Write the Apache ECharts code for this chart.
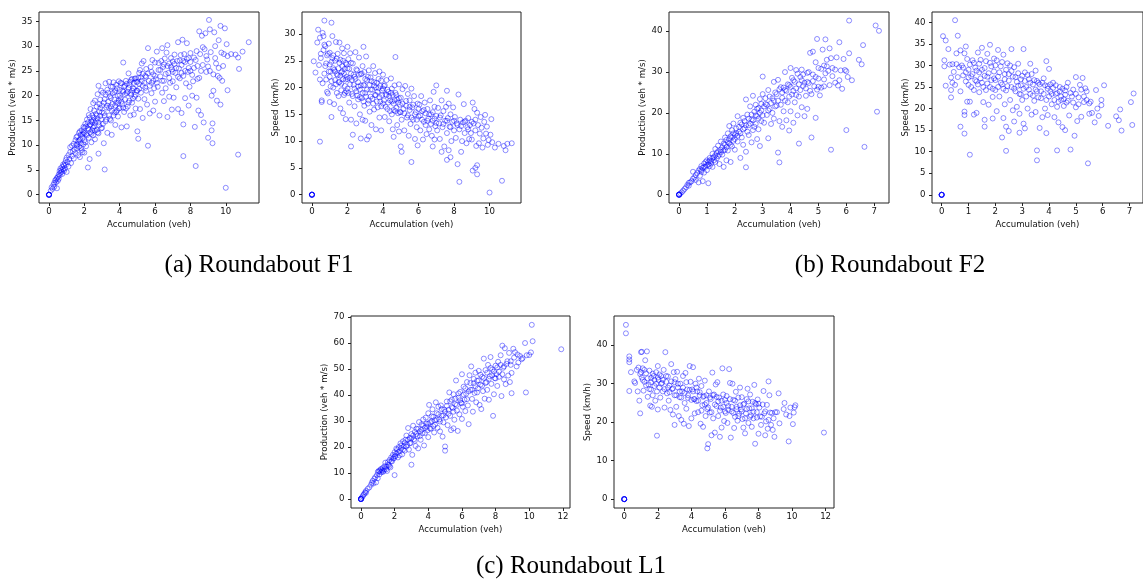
<!DOCTYPE html>
<html>
<head>
<meta charset="utf-8">
<script src="https://cdn.jsdelivr.net/npm/echarts@6/dist/echarts.min.js"></script>
<style>
  html, body { margin: 0; padding: 0; background: #fff; }
  #chart { width: 1143px; height: 581px; }
</style>
</head>
<body>
<div id="chart"></div>
<script>
// Roundabout F1: [accumulation (veh), production (veh * m/s)]
const f1Production = [
  [0,0],[0,0],[0,0],[0,0],[0,0],[0,0],
  [0.1,0.8],[0.15,1.5],[0.2,1.2],[0.25,2.0],[0.3,2.4],[0.3,1.6],[0.35,2.9],[0.4,3.1],[0.4,2.5],[0.45,1.3],[0.45,3.4],[0.5,3.6],[0.5,2.8],[0.55,4.1],[0.55,3.2],[0.6,4.8],[0.6,3.9],[0.65,4.4],[0.65,5.3],[0.7,4.6],[0.7,5.0],[0.75,4.2],[0.75,5.6],[0.8,5.1],[0.8,6.1],[0.85,4.8],[0.85,5.9],[0.9,6.4],[0.9,5.3],[0.95,7.0],[0.95,6.0],
  [1.0,4.6],[1.0,7.5],[1.05,6.6],[1.1,8.0],[1.1,5.7],[1.15,7.2],[1.2,9.6],[1.2,8.6],[1.25,6.4],[1.3,9.9],[1.3,7.8],[1.35,8.8],[1.4,10.3],[1.4,7.3],[1.45,9.1],[1.5,11.0],[1.5,8.4],[1.55,10.0],[1.6,9.4],[1.6,11.8],[1.65,8.0],[1.65,10.7],[1.7,12.5],[1.7,9.7],[1.75,11.2],[1.75,7.6],[1.8,10.4],[1.8,12.1],[1.85,9.0],[1.85,13.0],[1.9,11.5],[1.9,8.6],[1.95,12.6],[1.95,10.2],
  [2.0,13.5],[2.0,11.0],[2.0,8.5],[2.05,14.3],[2.1,12.2],[2.1,9.8],[2.15,15.2],[2.2,13.4],[2.2,5.5],[2.25,11.5],[2.25,16.1],[2.3,14.0],[2.3,7.2],[2.35,12.6],[2.35,17.3],[2.4,14.8],[2.4,10.6],[2.45,16.0],[2.45,13.0],[2.5,18.5],[2.5,15.0],[2.5,12.0],[2.55,17.0],[2.55,13.8],[2.6,14.5],[2.6,19.0],[2.6,11.2],[2.65,16.3],[2.7,13.1],[2.7,17.8],[2.75,15.4],[2.75,20.3],[2.8,12.4],[2.8,22.0],[2.8,8.3],[2.85,16.8],[2.85,14.0],[2.9,19.2],[2.9,17.5],[2.95,15.2],[2.95,21.0],
  [3.0,18.0],[3.0,13.5],[3.05,20.6],[3.1,16.5],[3.1,10.4],[3.15,5.1],[3.15,19.3],[3.2,22.5],[3.2,14.8],[3.25,17.6],[3.3,21.2],[3.3,12.5],[3.35,18.8],[3.4,16.0],[3.4,22.8],[3.45,19.9],[3.5,15.0],[3.5,21.8],[3.5,17.8],[3.55,12.1],[3.6,20.5],[3.6,18.3],[3.65,22.7],[3.7,16.6],[3.7,19.2],[3.75,14.1],[3.75,21.0],[3.8,18.6],[3.8,22.2],[3.85,17.0],[3.9,20.0],[3.9,15.8],[3.95,19.0],[3.95,22.9],
  [4.0,21.2],[4.0,17.5],[4.05,19.5],[4.1,13.6],[4.1,22.5],[4.15,18.3],[4.2,26.7],[4.2,20.8],[4.25,16.7],[4.3,22.0],[4.3,19.2],[4.35,23.0],[4.4,13.8],[4.4,20.5],[4.45,17.8],[4.5,24.5],[4.5,21.6],[4.55,19.0],[4.6,22.8],[4.6,16.0],[4.65,20.2],[4.7,23.4],[4.7,18.6],[4.75,21.5],[4.8,16.2],[4.8,22.6],[4.85,19.8],[4.9,23.5],[4.9,17.4],[4.95,21.0],
  [5.0,12.8],[5.0,22.8],[5.05,11.3],[5.05,19.4],[5.1,24.6],[5.1,21.4],[5.15,17.3],[5.2,23.7],[5.25,26.5],[5.3,15.5],[5.3,22.0],[5.35,27.0],[5.4,19.3],[5.45,24.0],[5.5,21.0],[5.5,25.4],[5.55,18.2],[5.6,9.9],[5.6,29.6],[5.65,23.0],[5.7,16.4],[5.75,25.8],[5.8,20.5],[5.8,22.6],[5.85,27.2],[5.9,17.0],[5.9,24.3],[5.95,21.5],
  [6.0,26.7],[6.0,18.8],[6.05,23.3],[6.1,28.9],[6.15,21.8],[6.2,25.2],[6.25,16.0],[6.3,23.9],[6.35,27.0],[6.4,29.6],[6.4,20.6],[6.45,25.8],[6.5,18.9],[6.5,23.0],[6.55,27.5],[6.6,21.5],[6.65,28.7],[6.7,30.2],[6.7,15.7],[6.75,24.6],[6.8,26.5],[6.8,19.8],[6.85,22.6],[6.9,27.6],[6.95,17.2],[6.95,25.3],
  [7.0,22.9],[7.0,26.9],[7.05,19.6],[7.1,28.3],[7.15,24.6],[7.2,21.7],[7.25,27.0],[7.3,30.8],[7.3,17.3],[7.35,25.5],[7.4,23.5],[7.45,28.2],[7.5,16.5],[7.5,26.2],[7.55,31.3],[7.6,7.8],[7.6,14.2],[7.6,24.0],[7.65,28.4],[7.7,19.5],[7.7,26.8],[7.75,22.5],[7.8,30.6],[7.85,24.8],[7.9,18.0],[7.9,27.6],[7.95,21.8],
  [8.0,28.6],[8.0,25.0],[8.1,20.0],[8.15,22.9],[8.2,27.7],[8.25,13.7],[8.3,5.8],[8.35,19.6],[8.35,29.0],[8.4,26.0],[8.45,17.0],[8.5,33.0],[8.5,23.6],[8.55,28.4],[8.6,16.1],[8.65,32.1],[8.7,26.2],[8.75,14.6],[8.8,29.4],[8.85,32.6],[8.9,24.8],[8.95,27.3],
  [9.0,11.5],[9.0,25.9],[9.05,35.3],[9.1,33.4],[9.15,28.8],[9.2,13.0],[9.2,20.0],[9.25,10.4],[9.25,14.4],[9.3,21.0],[9.3,24.3],[9.35,32.8],[9.4,30.0],[9.45,26.5],[9.5,19.0],[9.55,24.0],[9.6,31.2],[9.65,23.6],[9.7,18.2],[9.7,34.1],[9.75,28.7],[9.8,23.0],[9.85,26.0],[9.95,33.6],
  [10.0,1.4],[10.05,30.4],[10.1,21.1],[10.1,28.0],[10.3,28.4],[10.55,28.3],[10.7,27.7],[10.7,8.1],[10.75,25.4],[10.95,28.9],[11.3,30.8],
  [1.55,11.6],[1.6,10.2],[1.7,11.0],[1.75,12.8],[1.8,9.4],[1.9,12.2],[1.95,13.7],[2.0,12.4],[2.05,10.6],[2.1,13.8],[2.15,12.0],[2.2,14.6],[2.25,13.2],[2.3,15.6],[2.35,14.2],[2.4,12.3],[2.45,14.6],[2.5,13.5],[2.55,15.6],[2.6,13.0],[2.65,14.9],[2.7,16.0],[2.75,12.6],[2.8,14.6],[2.85,18.3],[2.9,15.9],[2.95,13.4],[3.0,16.6],[3.05,14.3],[3.1,18.6],[3.15,16.0],[3.2,20.2],[3.25,15.2],[3.3,18.0],[3.35,20.6],[3.4,17.5],[3.45,15.3],[3.5,19.5],[3.55,17.0],[3.6,21.8],[3.65,16.0],[3.7,20.7],[3.75,18.0],[3.8,16.7],[3.85,21.5],[3.9,18.5],[3.95,17.4],
  [4.0,20.0],[4.05,22.6],[4.1,18.8],[4.15,21.0],[4.2,17.6],[4.25,21.8],[4.3,20.3],[4.35,17.4],[4.4,22.4],[4.45,20.8],[4.5,18.6],[4.55,22.2],[4.6,20.5],[4.65,23.2],[4.7,21.0],[4.75,19.4],[4.8,21.4],[4.85,23.4],[4.9,20.2],[4.95,22.8],[5.0,21.0],[5.05,23.6],[5.1,22.4],[5.15,25.2],[5.2,20.6],[5.25,23.0],[5.3,24.4],[5.4,22.6],[5.45,21.6],[5.5,23.8],[5.6,24.5],[5.7,22.0],[5.8,24.8],[5.9,23.0],
  [6.0,24.0],[6.1,22.6],[6.2,26.6],[6.3,25.2],[6.4,23.0],[6.5,26.3],[6.6,24.4],[6.7,26.0],[6.8,23.6],[6.9,25.8],[7.0,24.8],[7.1,26.4],[7.2,25.6],[7.3,23.8],[7.4,27.1],[7.5,24.6],[7.6,27.0],[7.7,25.0],[7.8,27.4],[7.9,25.6],[8.0,26.8],[8.1,24.2],[8.2,25.6],[8.3,27.2],[8.4,23.4],[8.6,25.0],[8.7,29.8],[8.9,28.0],[9.1,25.0],[9.4,27.6],[9.6,25.6],[9.9,28.4]
];

// Roundabout F1: [accumulation (veh), speed (km/h)]
const f1Speed = [
  [0,0],[0,0],[0,0],[0,0],[0,0],[0,0],
  [0.1,24.9],[0.2,22.8],[0.3,28.4],[0.35,30.8],[0.4,24.2],[0.45,29.3],[0.45,21.5],[0.45,9.9],[0.5,26.3],[0.5,25.5],[0.55,17.6],[0.55,17.3],[0.6,30.2],[0.6,20.8],[0.65,29.6],[0.65,27.0],[0.7,32.5],[0.7,28.0],[0.7,22.6],[0.75,27.7],[0.75,24.0],[0.8,24.5],[0.8,21.5],[0.85,19.2],[0.85,26.0],[0.9,18.9],[0.9,26.3],[0.95,23.0],[0.95,28.2],
  [1.0,26.5],[1.0,17.3],[1.0,22.0],[1.05,20.2],[1.1,14.5],[1.1,32.1],[1.1,24.8],[1.15,29.6],[1.2,20.0],[1.2,26.0],[1.25,16.9],[1.25,23.3],[1.3,21.4],[1.3,25.0],[1.35,28.5],[1.4,22.5],[1.4,19.0],[1.45,26.3],[1.5,23.6],[1.5,18.4],[1.55,28.4],[1.55,21.0],[1.6,25.2],[1.6,16.1],[1.65,22.8],[1.65,19.5],[1.7,27.3],[1.7,24.0],[1.75,15.2],[1.75,21.6],[1.8,26.4],[1.8,18.6],[1.85,23.5],[1.85,20.3],[1.9,24.6],[1.9,14.1],[1.95,22.0],[1.95,19.3],
  [2.0,27.6],[2.0,23.6],[2.0,19.8],[2.05,25.3],[2.1,21.8],[2.1,17.2],[2.15,26.4],[2.2,9.0],[2.2,14.0],[2.2,22.6],[2.25,18.8],[2.3,11.2],[2.3,24.5],[2.35,20.5],[2.4,16.5],[2.4,22.0],[2.45,26.6],[2.5,19.3],[2.5,13.3],[2.55,23.2],[2.6,17.8],[2.6,21.0],[2.65,25.6],[2.7,15.0],[2.7,19.6],[2.75,10.5],[2.75,22.5],[2.8,18.0],[2.85,14.0],[2.85,24.0],[2.9,27.6],[2.9,20.5],[2.95,16.6],[2.95,22.9],
  [3.0,19.0],[3.0,13.8],[3.05,25.8],[3.1,10.3],[3.1,21.4],[3.15,17.0],[3.2,10.9],[3.2,23.2],[3.25,15.5],[3.3,19.6],[3.3,21.9],[3.35,13.0],[3.4,17.9],[3.45,24.0],[3.5,20.4],[3.5,15.9],[3.55,22.7],[3.6,18.6],[3.6,12.2],[3.65,20.9],[3.7,16.3],[3.75,19.9],[3.8,23.0],[3.8,14.4],[3.85,17.4],[3.9,21.3],[3.9,12.0],[3.95,19.4],
  [4.0,22.4],[4.0,17.0],[4.05,20.3],[4.1,14.5],[4.15,18.7],[4.2,21.4],[4.25,16.0],[4.3,19.2],[4.35,13.7],[4.4,17.6],[4.45,21.7],[4.5,15.0],[4.5,19.8],[4.55,12.2],[4.6,17.0],[4.6,10.8],[4.65,20.4],[4.7,25.7],[4.7,15.6],[4.75,18.6],[4.8,13.0],[4.85,17.2],[4.9,20.6],[4.9,11.8],[4.95,15.4],
  [5.0,9.0],[5.0,18.1],[5.05,8.0],[5.05,14.0],[5.1,19.7],[5.15,16.0],[5.2,12.0],[5.25,20.3],[5.3,17.5],[5.35,14.4],[5.4,18.8],[5.45,11.0],[5.5,15.8],[5.5,17.6],[5.55,13.2],[5.6,6.1],[5.6,19.8],[5.65,16.3],[5.7,14.0],[5.75,18.4],[5.8,10.4],[5.85,15.4],[5.9,12.6],[5.95,9.2],[5.95,17.0],
  [6.0,14.6],[6.05,16.8],[6.1,12.0],[6.15,18.4],[6.2,14.0],[6.25,10.3],[6.3,15.8],[6.35,17.2],[6.4,13.0],[6.45,11.3],[6.5,16.0],[6.55,14.2],[6.6,12.2],[6.65,17.6],[6.7,15.0],[6.75,11.0],[6.8,9.0],[6.8,13.8],[6.85,19.2],[6.9,10.3],[6.9,16.4],[6.95,12.8],
  [7.0,14.7],[7.0,20.4],[7.05,12.0],[7.1,16.2],[7.15,13.3],[7.2,10.4],[7.25,14.8],[7.3,8.0],[7.3,17.6],[7.35,12.6],[7.4,15.6],[7.45,9.0],[7.5,13.8],[7.55,16.4],[7.6,6.5],[7.6,19.4],[7.6,11.5],[7.65,14.3],[7.7,8.3],[7.7,17.0],[7.75,12.7],[7.8,7.0],[7.8,15.0],[7.85,10.0],[7.9,13.6],[7.95,16.3],
  [8.0,12.0],[8.05,14.5],[8.1,10.6],[8.15,13.3],[8.2,5.7],[8.25,18.7],[8.3,2.4],[8.3,12.2],[8.35,14.0],[8.4,8.0],[8.45,10.0],[8.5,13.5],[8.55,16.9],[8.6,11.5],[8.65,13.8],[8.7,9.6],[8.75,12.6],[8.8,14.3],[8.85,10.4],[8.9,13.0],[8.95,11.5],
  [9.0,10.3],[9.05,4.5],[9.05,17.2],[9.1,13.3],[9.15,16.0],[9.2,5.0],[9.2,12.0],[9.25,9.1],[9.3,3.8],[9.3,5.5],[9.3,15.3],[9.35,13.0],[9.4,9.6],[9.45,11.4],[9.5,14.5],[9.55,12.5],[9.6,8.8],[9.65,10.5],[9.7,13.6],[9.75,14.9],[9.8,11.4],[9.85,12.7],[9.9,9.3],[9.95,10.2],
  [10.0,0.4],[10.05,11.2],[10.1,14.1],[10.15,9.8],[10.3,8.8],[10.5,9.5],[10.7,2.6],[10.8,9.1],[10.9,8.3],[11.0,9.5],[11.25,9.6],
  [1.0,24.3],[1.05,23.0],[1.1,21.2],[1.15,25.5],[1.2,23.6],[1.3,23.0],[1.35,20.6],[1.4,25.4],[1.45,22.3],[1.5,21.0],[1.55,24.6],[1.6,22.2],[1.65,20.7],[1.7,23.0],[1.75,25.0],[1.8,22.6],[1.85,19.0],[1.9,21.5],[1.95,24.3],
  [2.0,21.6],[2.05,19.0],[2.1,23.5],[2.15,20.6],[2.2,24.6],[2.25,21.4],[2.3,18.4],[2.35,22.4],[2.4,19.8],[2.45,21.6],[2.5,23.4],[2.55,18.5],[2.6,20.2],[2.65,22.4],[2.7,18.2],[2.75,20.4],[2.8,22.6],[2.85,19.0],[2.9,17.4],[2.95,20.4],
  [3.0,21.6],[3.05,18.3],[3.1,19.6],[3.15,22.0],[3.2,17.6],[3.25,20.5],[3.3,18.3],[3.35,21.2],[3.4,19.6],[3.45,17.0],[3.5,21.0],[3.55,18.6],[3.6,20.0],[3.65,17.4],[3.7,19.2],[3.75,21.6],[3.8,18.2],[3.85,20.3],[3.9,16.5],[3.95,18.6],
  [4.0,19.8],[4.05,17.6],[4.1,20.4],[4.15,16.4],[4.2,18.6],[4.25,19.6],[4.3,17.2],[4.35,18.4],[4.4,15.6],[4.45,19.0],[4.5,17.4],[4.55,18.6],[4.6,15.8],[4.65,17.6],[4.7,19.0],[4.75,16.2],[4.8,17.8],[4.85,15.2],[4.9,18.0],[4.95,16.8],
  [5.0,15.4],[5.1,17.0],[5.2,15.2],[5.3,16.6],[5.4,14.8],[5.5,16.4],[5.6,14.4],[5.7,16.8],[5.8,15.0],[5.9,14.0],[6.0,16.0],[6.1,14.8],[6.2,15.6],[6.3,13.6],[6.4,15.2],[6.5,13.8],[6.6,15.0],[6.7,13.2],[6.8,15.4],[6.9,14.2],
  [7.0,13.4],[7.2,14.4],[7.4,13.2],[7.6,13.8],[7.8,12.6],[8.0,13.8],[8.2,13.0],[8.4,12.8],[8.6,13.6],[8.8,12.2],[9.0,13.6],[9.2,14.0]
];

// Roundabout F2: [accumulation (veh), production (veh * m/s)]
const f2Production = [
  [0,0],[0,0],[0,0],[0,0],[0,0],[0,0],
  [0.05,0.3],[0.1,0.6],[0.15,1.0],[0.2,1.4],[0.25,1.8],[0.3,2.4],[0.35,2.2],[0.35,2.9],[0.4,3.0],[0.45,3.3],[0.5,3.9],[0.5,5.6],[0.55,4.2],[0.6,4.8],[0.6,3.6],[0.65,5.3],[0.7,3.0],[0.7,5.9],[0.75,4.6],[0.75,6.3],[0.8,5.6],[0.8,7.0],[0.85,3.3],[0.85,6.6],[0.9,7.6],[0.9,5.4],[0.95,8.0],[0.95,6.8],
  [1.0,8.4],[1.0,6.0],[1.05,2.8],[1.05,7.4],[1.1,9.0],[1.1,7.0],[1.15,8.2],[1.2,10.0],[1.2,6.8],[1.25,9.2],[1.3,11.2],[1.3,8.0],[1.35,10.2],[1.4,12.0],[1.4,9.4],[1.45,7.5],[1.5,11.0],[1.5,13.0],[1.55,9.8],[1.6,12.5],[1.6,6.8],[1.65,14.0],[1.65,11.0],[1.7,8.4],[1.7,13.4],[1.75,15.0],[1.75,10.8],[1.8,12.6],[1.8,16.8],[1.85,8.0],[1.85,14.3],[1.9,11.8],[1.9,15.8],[1.95,13.2],[1.95,17.4],
  [2.0,14.6],[2.0,11.0],[2.05,16.2],[2.1,19.2],[2.1,13.0],[2.15,15.4],[2.2,17.6],[2.2,9.0],[2.25,14.0],[2.3,18.8],[2.3,12.2],[2.35,16.3],[2.4,23.3],[2.4,6.7],[2.4,10.5],[2.45,19.6],[2.5,14.6],[2.5,17.0],[2.55,21.6],[2.6,18.4],[2.6,12.8],[2.65,24.2],[2.65,15.8],[2.7,20.3],[2.75,17.3],[2.75,22.0],[2.8,13.6],[2.8,19.2],[2.85,21.2],[2.85,16.0],[2.9,11.9],[2.9,23.4],[2.95,18.0],[2.95,20.6],
  [3.0,28.9],[3.0,24.6],[3.05,17.6],[3.1,22.2],[3.15,19.5],[3.2,25.6],[3.2,13.8],[3.25,21.0],[3.3,17.3],[3.35,23.6],[3.4,27.6],[3.4,18.6],[3.45,25.0],[3.5,21.8],[3.55,10.3],[3.55,28.1],[3.6,7.9],[3.6,18.0],[3.65,26.3],[3.7,16.6],[3.7,23.7],[3.75,20.4],[3.8,30.0],[3.8,25.6],[3.85,18.2],[3.9,22.6],[3.95,15.7],[3.95,26.8],
  [4.0,31.0],[4.0,20.4],[4.05,24.5],[4.1,28.0],[4.1,17.6],[4.15,22.6],[4.2,30.5],[4.2,26.0],[4.25,19.4],[4.3,12.5],[4.3,24.0],[4.35,28.8],[4.4,30.6],[4.4,21.4],[4.45,26.6],[4.5,19.2],[4.55,24.2],[4.6,29.8],[4.6,21.0],[4.65,27.3],[4.7,34.7],[4.75,14.0],[4.75,24.6],[4.8,35.0],[4.8,29.4],[4.85,26.5],[4.9,32.4],[4.9,18.8],[4.95,38.1],[4.95,25.7],
  [5.0,31.0],[5.0,28.4],[5.05,24.3],[5.1,26.2],[5.15,35.5],[5.2,31.6],[5.2,26.5],[5.25,38.0],[5.25,29.7],[5.3,33.0],[5.35,30.3],[5.4,35.8],[5.45,11.0],[5.45,33.4],[5.5,29.0],[5.6,30.6],[5.65,33.6],[5.7,26.7],[5.75,37.3],[5.75,28.0],[5.85,25.9],[5.9,33.2],[5.95,30.5],
  [6.0,15.8],[6.0,30.2],[6.05,28.8],[6.1,42.6],[6.1,34.6],[6.2,28.0],[6.45,33.0],[6.55,31.9],[6.6,36.6],[6.65,11.7],[7.05,41.4],[7.1,20.3],[7.17,40.1],
  [0.8,6.0],[0.9,6.8],[1.0,7.2],[1.05,8.0],[1.1,8.4],[1.15,7.6],[1.2,9.0],[1.25,8.4],[1.3,9.6],[1.35,8.8],[1.4,10.6],[1.45,9.8],[1.5,10.4],[1.55,11.6],[1.6,10.8],[1.65,12.2],[1.7,11.6],[1.75,12.8],[1.8,13.6],[1.85,12.2],[1.9,14.0],[1.95,15.0],
  [2.0,13.6],[2.05,15.0],[2.1,14.4],[2.15,16.6],[2.2,15.0],[2.25,17.2],[2.3,16.0],[2.35,18.0],[2.4,17.0],[2.45,15.4],[2.5,18.6],[2.55,17.4],[2.6,19.6],[2.65,18.2],[2.7,16.6],[2.75,19.4],[2.8,21.0],[2.85,18.6],[2.9,20.0],[2.95,22.2],
  [3.0,19.4],[3.05,21.6],[3.1,23.6],[3.15,22.0],[3.2,20.6],[3.25,24.0],[3.3,22.4],[3.35,20.0],[3.4,23.0],[3.45,21.6],[3.5,24.6],[3.55,23.0],[3.6,25.8],[3.65,22.0],[3.7,25.0],[3.75,26.2],[3.8,23.0],[3.85,25.4],[3.9,27.0],[3.95,24.0],
  [4.0,26.4],[4.05,28.6],[4.1,25.4],[4.15,27.6],[4.2,24.4],[4.25,29.6],[4.3,27.0],[4.35,25.6],[4.4,28.0],[4.45,29.4],[4.5,27.4],[4.55,26.0],[4.6,27.6],[4.65,30.0],[4.7,25.4],[4.8,27.8],[4.9,28.8],
  [5.0,26.4],[5.1,30.8],[5.2,28.2],[5.3,31.4],[5.4,26.8],[5.5,31.0],[5.6,27.4],[5.8,30.4]
];

// Roundabout F2: [accumulation (veh), speed (km/h)]
const f2Speed = [
  [0,0],[0,0],[0,0],[0,0],[0,0],[0,0],
  [0.05,36.8],[0.1,31.2],[0.1,29.8],[0.15,25.3],[0.15,35.8],[0.25,33.8],[0.3,30.2],[0.35,27.2],[0.35,24.3],[0.35,22.6],[0.4,26.0],[0.4,30.3],[0.45,28.5],[0.5,40.5],[0.5,25.5],[0.55,32.8],[0.55,30.3],[0.6,36.9],[0.6,27.3],[0.65,29.6],[0.7,33.5],[0.7,24.0],[0.7,15.8],[0.75,30.0],[0.8,27.7],[0.85,32.8],[0.85,19.3],[0.85,18.5],[0.85,14.2],[0.9,34.4],[0.9,26.3],[0.95,21.6],[0.95,31.5],
  [1.0,29.0],[1.0,25.5],[1.05,9.3],[1.05,21.6],[1.1,27.5],[1.15,31.2],[1.2,24.3],[1.2,18.6],[1.25,29.5],[1.3,26.3],[1.3,19.0],[1.35,33.0],[1.4,23.8],[1.4,28.4],[1.45,31.3],[1.5,34.1],[1.5,26.0],[1.55,21.5],[1.6,29.4],[1.6,17.4],[1.6,15.8],[1.65,24.3],[1.7,32.7],[1.7,27.4],[1.75,20.9],[1.8,34.8],[1.8,25.0],[1.85,29.8],[1.9,22.7],[1.9,17.7],[1.95,31.6],[1.95,27.0],
  [2.0,24.3],[2.0,30.0],[2.05,19.4],[2.1,33.6],[2.1,27.4],[2.15,22.8],[2.2,29.8],[2.25,25.6],[2.25,13.3],[2.3,17.8],[2.3,32.5],[2.35,21.0],[2.35,28.0],[2.4,10.2],[2.4,15.8],[2.4,24.2],[2.45,30.5],[2.5,14.8],[2.5,26.5],[2.55,22.0],[2.6,33.8],[2.6,28.7],[2.65,19.6],[2.7,24.6],[2.7,17.0],[2.75,27.3],[2.8,20.4],[2.85,25.3],[2.85,30.4],[2.9,18.8],[2.9,14.4],[2.95,23.3],[2.95,26.8],
  [3.0,22.0],[3.05,33.8],[3.05,16.5],[3.1,28.4],[3.1,15.4],[3.15,25.0],[3.2,20.0],[3.25,26.8],[3.3,30.4],[3.3,23.4],[3.35,18.6],[3.4,25.6],[3.45,21.8],[3.5,28.8],[3.5,19.2],[3.55,10.3],[3.55,8.0],[3.55,24.0],[3.6,26.0],[3.65,15.5],[3.7,22.4],[3.75,18.0],[3.8,27.0],[3.85,20.0],[3.9,31.0],[3.9,14.3],[3.95,25.2],[3.95,18.5],
  [4.0,29.2],[4.05,24.0],[4.1,21.0],[4.15,26.0],[4.2,18.0],[4.25,23.4],[4.3,10.3],[4.3,20.4],[4.35,16.8],[4.4,25.0],[4.45,22.0],[4.5,15.7],[4.55,20.6],[4.6,24.2],[4.6,15.0],[4.65,21.4],[4.7,26.0],[4.75,18.4],[4.8,10.5],[4.85,22.8],[4.9,24.4],[4.95,13.7],
  [5.0,27.3],[5.0,20.3],[5.05,17.1],[5.1,22.6],[5.15,25.5],[5.2,18.1],[5.25,27.1],[5.3,21.5],[5.35,24.7],[5.4,22.0],[5.45,7.3],[5.5,18.8],[5.55,21.6],[5.6,19.0],[5.7,16.8],[5.75,24.3],[5.8,20.0],[5.85,18.3],[5.95,20.8],[5.95,22.0],
  [6.05,25.4],[6.2,16.0],[6.5,18.2],[6.6,17.3],[6.65,19.8],[6.7,14.9],[7.05,21.5],[7.1,16.2],[7.15,23.5],
  [0.8,29.5],[0.9,28.4],[1.0,27.2],[1.05,30.2],[1.1,25.0],[1.15,28.0],[1.2,30.6],[1.25,26.6],[1.3,28.8],[1.35,25.6],[1.4,30.4],[1.45,27.0],[1.5,29.0],[1.55,25.0],[1.6,27.6],[1.65,31.0],[1.7,25.8],[1.75,28.2],[1.8,30.6],[1.85,26.6],[1.9,24.6],[1.95,28.6],
  [2.0,26.6],[2.05,31.2],[2.1,25.0],[2.15,28.4],[2.2,26.0],[2.25,30.8],[2.3,24.6],[2.35,26.8],[2.4,29.0],[2.45,25.2],[2.5,28.0],[2.55,30.0],[2.6,25.0],[2.65,27.4],[2.7,29.6],[2.75,24.0],[2.8,26.2],[2.85,28.2],[2.9,23.4],[2.95,25.4],
  [3.0,27.6],[3.05,24.6],[3.1,26.4],[3.15,22.8],[3.2,27.8],[3.25,24.4],[3.3,26.0],[3.35,28.0],[3.4,23.0],[3.45,26.6],[3.5,24.4],[3.55,26.4],[3.6,22.6],[3.65,25.6],[3.7,24.0],[3.75,26.0],[3.8,23.4],[3.85,25.4],[3.9,22.0],[3.95,24.6],
  [4.0,22.8],[4.05,25.6],[4.1,23.4],[4.15,24.8],[4.2,22.0],[4.25,25.4],[4.3,23.6],[4.35,21.6],[4.4,24.0],[4.45,22.8],[4.5,24.6],[4.55,22.2],[4.6,23.2],[4.65,25.0],[4.7,21.8],[4.8,23.6],[4.9,21.4],
  [5.0,23.4],[5.1,21.0],[5.2,24.4],[5.3,22.8],[5.4,24.0],[5.5,21.2]
];

// Roundabout L1: [accumulation (veh), production (veh * m/s)]
const l1Production = [
  [0,0],[0,0],[0,0],[0,0],[0,0],[0,0],
  [0.05,0.5],[0.1,1.0],[0.15,1.6],[0.2,2.0],[0.25,2.6],[0.3,3.1],[0.3,2.4],[0.4,3.9],[0.5,4.5],[0.6,5.5],[0.65,6.3],[0.7,7.0],[0.75,6.0],[0.8,7.8],[0.85,8.4],[0.9,6.4],[0.95,9.2],
  [1.0,10.4],[1.0,8.0],[1.05,10.8],[1.1,9.5],[1.15,11.2],[1.2,10.3],[1.25,11.0],[1.3,12.0],[1.35,10.8],[1.4,11.5],[1.45,14.0],[1.5,12.4],[1.55,10.8],[1.6,14.2],[1.65,13.0],[1.7,15.0],[1.75,12.2],[1.8,16.0],[1.85,14.5],[1.9,17.0],[1.95,15.6],
  [2.0,18.0],[2.0,9.2],[2.05,16.5],[2.1,17.5],[2.15,19.0],[2.2,16.0],[2.25,20.0],[2.3,18.4],[2.35,21.4],[2.4,19.5],[2.45,17.2],[2.5,22.2],[2.55,20.3],[2.6,18.6],[2.65,22.8],[2.7,24.4],[2.75,20.8],[2.8,27.3],[2.85,19.0],[2.9,23.5],[2.95,21.6],
  [3.0,13.2],[3.0,25.0],[3.05,17.0],[3.1,28.2],[3.15,23.0],[3.2,25.8],[3.25,20.4],[3.3,27.0],[3.35,24.2],[3.4,19.5],[3.45,29.6],[3.5,26.0],[3.55,22.8],[3.6,28.7],[3.65,25.3],[3.7,30.6],[3.75,20.6],[3.8,27.3],[3.85,31.3],[3.9,29.0],[3.95,26.4],
  [4.0,23.8],[4.0,33.0],[4.05,36.2],[4.1,29.5],[4.15,27.0],[4.2,31.8],[4.25,34.5],[4.3,28.0],[4.35,25.6],[4.4,30.3],[4.45,37.2],[4.5,33.0],[4.55,27.4],[4.6,35.5],[4.65,30.6],[4.7,26.0],[4.75,36.0],[4.8,32.0],[4.85,24.0],[4.9,29.5],[4.95,34.4],
  [5.0,18.6],[5.0,20.2],[5.05,31.4],[5.1,37.5],[5.15,28.4],[5.2,34.3],[5.25,41.0],[5.3,32.0],[5.35,26.5],[5.4,38.2],[5.45,35.0],[5.5,27.2],[5.5,40.3],[5.55,30.5],[5.6,36.5],[5.65,45.6],[5.7,34.0],[5.75,26.2],[5.8,39.0],[5.85,32.6],[5.9,41.2],[5.95,37.0],
  [6.0,48.0],[6.0,30.8],[6.05,35.5],[6.1,43.2],[6.15,38.2],[6.2,33.8],[6.25,40.5],[6.3,45.0],[6.35,36.0],[6.4,28.8],[6.45,47.6],[6.5,42.0],[6.55,51.0],[6.6,38.5],[6.65,33.6],[6.7,44.5],[6.75,40.8],[6.8,48.6],[6.85,37.2],[6.9,45.5],[6.95,42.6],
  [7.0,49.3],[7.05,36.2],[7.1,44.0],[7.15,34.6],[7.2,47.0],[7.25,41.5],[7.3,54.0],[7.35,38.6],[7.4,49.6],[7.45,45.0],[7.5,42.0],[7.55,51.6],[7.6,38.2],[7.65,47.2],[7.7,54.6],[7.75,44.3],[7.8,49.8],[7.85,32.0],[7.9,40.3],[7.95,46.5],
  [8.0,51.3],[8.05,48.0],[8.1,43.5],[8.15,52.8],[8.2,47.0],[8.3,55.3],[8.35,39.6],[8.4,59.0],[8.45,50.5],[8.5,46.0],[8.55,58.0],[8.6,44.2],[8.65,52.0],[8.75,47.5],[8.8,56.2],[8.85,45.0],[8.9,53.0],[8.95,48.5],
  [8.95,40.7],[9.05,57.8],[9.15,56.5],[9.25,51.0],[9.35,52.5],[9.45,55.0],[9.55,53.8],[9.6,54.2],[9.75,60.0],[9.8,41.0],[9.85,55.3],[10.0,55.4],[10.1,56.4],[10.15,67.0],[10.2,60.7],[11.9,57.6],
  [1.1,10.6],[1.2,11.6],[1.3,10.4],[1.4,12.6],[1.5,11.4],[1.6,13.2],[1.7,12.6],[1.8,14.6],[1.9,15.6],[2.0,16.4],[2.1,19.4],[2.2,18.0],[2.3,16.8],[2.4,20.6],[2.5,19.0],[2.6,21.6],[2.7,20.2],[2.8,22.8],[2.9,21.4],
  [3.0,23.4],[3.1,24.4],[3.2,22.4],[3.3,25.0],[3.4,27.0],[3.5,24.2],[3.6,26.6],[3.7,28.2],[3.8,25.4],[3.9,27.8],[4.0,29.0],[4.1,27.2],[4.2,29.8],[4.3,31.6],[4.4,28.6],[4.5,30.6],[4.6,32.6],[4.7,29.8],[4.8,34.6],[4.9,32.2],
  [5.0,33.6],[5.1,35.8],[5.2,32.8],[5.3,37.6],[5.4,35.4],[5.5,33.6],[5.6,38.6],[5.7,36.2],[5.8,40.6],[5.9,38.0],[6.0,36.8],[6.1,40.2],[6.2,42.6],[6.3,38.4],[6.4,41.4],[6.5,44.6],[6.6,42.0],[6.7,46.2],[6.8,43.4],[6.9,41.0],
  [7.0,45.6],[7.1,47.8],[7.2,43.6],[7.3,46.6],[7.4,44.6],[7.5,48.6],[7.6,46.2],[7.7,50.4],[7.8,47.6],[7.9,49.0],[8.0,46.4],[8.1,50.6],[8.2,49.0],[8.3,51.6],[8.4,48.0],[8.5,51.0],[8.7,53.0],[8.9,51.6],[9.1,54.4],[9.3,55.6]
];

// Roundabout L1: [accumulation (veh), speed (km/h)]
const l1Speed = [
  [0,0],[0,0],[0,0],[0,0],[0,0],[0,0],
  [0.1,45.3],[0.1,43.1],[0.3,37.1],[0.3,36.3],[0.3,35.6],[0.3,28.1],[0.4,33.0],[0.6,30.6],[0.65,30.2],[0.75,33.6],[0.8,28.0],[0.85,34.2],[0.9,25.6],[0.95,32.5],[0.95,22.3],
  [1.0,38.2],[1.05,38.3],[1.05,31.6],[1.1,34.0],[1.15,28.2],[1.2,30.5],[1.25,36.1],[1.3,32.7],[1.35,38.4],[1.4,26.6],[1.45,29.8],[1.5,33.4],[1.55,24.3],[1.6,28.5],[1.6,31.5],[1.65,24.0],[1.7,27.0],[1.75,32.0],[1.8,29.4],[1.85,25.6],[1.9,33.0],[1.95,16.5],[1.95,28.0],
  [2.0,34.6],[2.0,23.3],[2.05,31.0],[2.1,29.0],[2.15,26.4],[2.2,32.0],[2.25,30.2],[2.3,28.0],[2.35,33.6],[2.4,23.8],[2.45,38.2],[2.5,30.5],[2.55,27.5],[2.6,31.9],[2.65,25.6],[2.7,29.5],[2.75,23.2],[2.8,35.1],[2.85,28.6],[2.9,22.0],[2.95,33.0],
  [3.0,19.3],[3.0,27.0],[3.05,31.2],[3.1,24.0],[3.15,33.1],[3.2,29.0],[3.25,21.6],[3.3,26.5],[3.35,30.0],[3.4,20.6],[3.45,28.0],[3.5,32.0],[3.55,19.6],[3.6,25.0],[3.65,32.8],[3.7,23.5],[3.75,28.5],[3.8,26.3],[3.85,19.0],[3.9,34.6],[3.95,30.5],
  [4.0,21.0],[4.05,28.5],[4.1,34.3],[4.15,26.0],[4.2,22.3],[4.25,30.0],[4.3,25.5],[4.35,28.0],[4.4,22.6],[4.45,31.3],[4.5,27.0],[4.55,19.6],[4.6,29.4],[4.65,24.4],[4.7,18.8],[4.75,26.8],[4.8,30.8],[4.85,21.6],[4.9,25.0],[4.95,13.2],[4.95,23.4],
  [5.0,14.3],[5.05,28.0],[5.1,22.5],[5.15,26.0],[5.2,16.6],[5.25,32.9],[5.3,21.0],[5.35,27.2],[5.4,17.3],[5.45,29.8],[5.5,24.2],[5.55,30.4],[5.6,21.6],[5.65,26.4],[5.7,16.2],[5.75,23.8],[5.8,18.6],[5.85,34.0],[5.9,27.2],[5.95,20.3],
  [6.0,25.8],[6.05,22.4],[6.1,26.8],[6.15,19.8],[6.2,24.2],[6.25,33.8],[6.3,30.2],[6.35,16.0],[6.4,22.8],[6.45,30.0],[6.5,25.8],[6.55,18.5],[6.6,21.4],[6.65,27.9],[6.7,24.0],[6.75,20.4],[6.8,26.4],[6.85,22.2],[6.9,29.0],[6.95,23.3],
  [7.0,26.5],[7.05,20.8],[7.1,18.6],[7.15,24.8],[7.2,17.1],[7.25,22.3],[7.3,26.0],[7.35,28.7],[7.4,19.8],[7.45,23.6],[7.5,27.2],[7.55,21.8],[7.6,18.8],[7.65,25.3],[7.7,22.7],[7.75,29.7],[7.8,14.4],[7.85,24.7],[7.9,21.2],[7.95,25.9],
  [8.0,17.0],[8.05,23.8],[8.1,21.5],[8.15,19.3],[8.25,24.6],[8.3,28.1],[8.35,22.3],[8.4,16.6],[8.45,20.2],[8.5,24.5],[8.55,18.3],[8.6,30.6],[8.65,27.0],[8.7,22.5],[8.75,19.3],[8.85,18.0],[8.9,21.0],[8.95,16.2],
  [9.1,22.6],[9.2,27.5],[9.25,19.7],[9.5,23.4],[9.55,25.0],[9.65,22.0],[9.8,15.0],[9.85,21.6],[9.9,23.8],[10.05,19.5],[10.1,22.5],[10.15,23.9],[10.2,24.4],[11.9,17.3],
  [1.0,33.0],[1.1,31.0],[1.2,33.6],[1.3,29.6],[1.4,31.4],[1.5,28.6],[1.6,30.4],[1.7,32.6],[1.8,31.0],[1.9,30.0],[2.0,31.6],[2.1,32.4],[2.2,30.0],[2.3,31.0],[2.4,28.6],[2.5,32.0],[2.6,29.0],[2.7,27.8],[2.8,30.6],[2.9,28.8],
  [3.0,30.4],[3.1,27.0],[3.2,30.0],[3.3,28.0],[3.4,26.4],[3.5,29.0],[3.6,27.6],[3.7,30.4],[3.8,27.0],[3.9,28.4],[4.0,25.8],[4.1,28.0],[4.2,26.0],[4.3,29.0],[4.4,25.6],[4.5,27.8],[4.6,23.0],[4.7,26.6],[4.8,24.6],[4.9,27.0],
  [5.0,23.8],[5.1,26.4],[5.2,22.6],[5.3,27.0],[5.4,24.6],[5.5,26.6],[5.6,25.4],[5.7,23.0],[5.8,25.6],[5.9,24.0],[6.0,22.8],[6.1,25.0],[6.2,23.2],[6.3,26.0],[6.4,24.0],[6.5,22.4],[6.6,25.6],[6.7,23.4],[6.8,21.6],[6.9,24.4],
  [7.0,22.8],[7.1,24.6],[7.2,21.0],[7.3,23.4],[7.4,25.4],[7.5,21.4],[7.6,23.6],[7.7,21.0],[7.8,25.0],[7.9,22.6],[8.0,24.8],[8.2,21.4],[8.4,22.8],[8.6,20.6],[8.8,22.4],[9.0,22.6]
];

// Tick values
const f1AccTicks = [0, 2, 4, 6, 8, 10];
const f1ProdTicks = [0, 5, 10, 15, 20, 25, 30, 35];
const f1SpeedTicks = [0, 5, 10, 15, 20, 25, 30];
const f2AccTicks = [0, 1, 2, 3, 4, 5, 6, 7];
const f2ProdTicks = [0, 10, 20, 30, 40];
const f2SpeedTicks = [0, 5, 10, 15, 20, 25, 30, 35, 40];
const l1AccTicks = [0, 2, 4, 6, 8, 10, 12];
const l1ProdTicks = [0, 10, 20, 30, 40, 50, 60, 70];
const l1SpeedTicks = [0, 10, 20, 30, 40];

const captions = ['(a) Roundabout F1', '(b) Roundabout F2', '(c) Roundabout L1'];
const accName = 'Accumulation (veh)';
const prodName = 'Production (veh * m/s)';
const speedName = 'Speed (km/h)';

// Panel layout: plot box in pixels and axis extents
const panels = [
  { box: [39, 12, 220, 191],  x: [-0.565, 11.88], y: [-1.67, 36.9],  xt: f1AccTicks, yt: f1ProdTicks,  yName: prodName,  data: f1Production },
  { box: [302, 12, 219, 191], x: [-0.56, 11.77],  y: [-1.55, 34.1],  xt: f1AccTicks, yt: f1SpeedTicks, yName: speedName, data: f1Speed },
  { box: [669, 12, 220, 191], x: [-0.36, 7.53],   y: [-2.04, 44.7],  xt: f2AccTicks, yt: f2ProdTicks,  yName: prodName,  data: f2Production },
  { box: [932, 12, 220, 191], x: [-0.36, 7.5],    y: [-1.9, 42.4],   xt: f2AccTicks, yt: f2SpeedTicks, yName: speedName, data: f2Speed },
  { box: [351, 316, 219, 192], x: [-0.59, 12.42], y: [-3.45, 70.4],  xt: l1AccTicks, yt: l1ProdTicks,  yName: prodName,  data: l1Production },
  { box: [614, 316, 220, 192], x: [-0.61, 12.5],  y: [-2.3, 47.6],   xt: l1AccTicks, yt: l1SpeedTicks, yName: speedName, data: l1Speed }
];

const FONT = 'DejaVu Sans';
const textStyle = { fontFamily: FONT, fontSize: 8.6, color: '#111' };

function axis(i, range, ticks, name, vertical) {
  return {
    type: 'value',
    gridIndex: i,
    min: range[0],
    max: range[1],
    name: name,
    nameLocation: 'middle',
    nameGap: vertical ? 21 : 17,
    nameTextStyle: textStyle,
    axisLine: { show: false, onZero: false },
    splitLine: { show: false },
    axisTick: { show: true, inside: false, length: 3, customValues: ticks, lineStyle: { color: '#222', width: 1 } },
    axisLabel: Object.assign({ customValues: ticks, margin: vertical ? 6.5 : 4 }, textStyle)
  };
}

const captionStyle = { fontFamily: 'Liberation Serif', fontSize: 25, fill: '#000', textAlign: 'center', textVerticalAlign: 'middle' };

const option = {
  animation: false,
  backgroundColor: '#fff',
  grid: panels.map(p => ({
    left: p.box[0], top: p.box[1], width: p.box[2], height: p.box[3],
    show: true, borderColor: '#222', borderWidth: 1, backgroundColor: '#fff'
  })),
  xAxis: panels.map((p, i) => axis(i, p.x, p.xt, accName, false)),
  yAxis: panels.map((p, i) => axis(i, p.y, p.yt, p.yName, true)),
  series: panels.map((p, i) => ({
    type: 'scatter',
    xAxisIndex: i,
    yAxisIndex: i,
    data: p.data,
    symbol: 'circle',
    symbolSize: 5,
    itemStyle: { color: 'rgba(0,0,0,0)', borderColor: 'rgba(0,0,255,0.55)', borderWidth: 1 },
    emphasis: { disabled: true }
  })),
  graphic: [
    { type: 'text', x: 259, y: 265, style: Object.assign({ text: captions[0] }, captionStyle) },
    { type: 'text', x: 890, y: 265, style: Object.assign({ text: captions[1] }, captionStyle) },
    { type: 'text', x: 571, y: 566, style: Object.assign({ text: captions[2] }, captionStyle) }
  ]
};

const chart = echarts.init(document.getElementById('chart'), null, { renderer: 'canvas' });
chart.setOption(option);
</script>
</body>
</html>
